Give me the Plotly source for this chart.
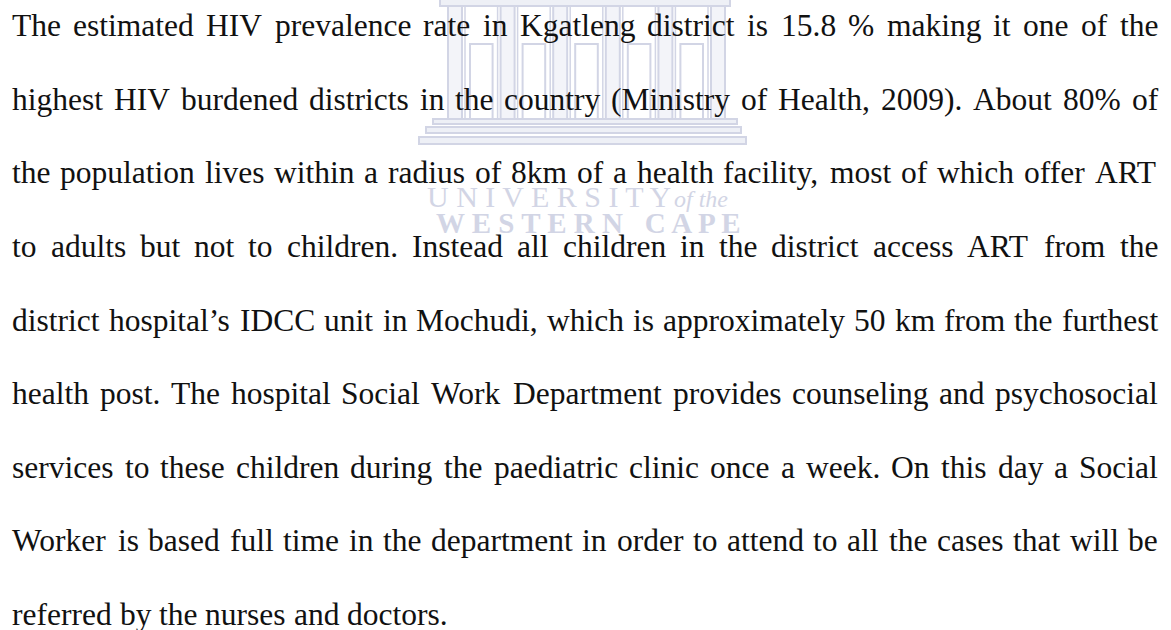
import plotly.graph_objects as go

# ---- content ----
lines = [
    "The estimated HIV prevalence rate in Kgatleng district is 15.8 % making it one of the",
    "highest HIV burdened districts in the country (Ministry of Health, 2009). About 80% of",
    "the population lives within a radius of 8km of a health facility, most of which offer ART",
    "to adults but not to children. Instead all children in the district access ART from the",
    "district hospital\u2019s IDCC unit in Mochudi, which is approximately 50 km from the furthest",
    "health post. The hospital Social Work Department provides counseling and psychosocial",
    "services to these children during the paediatric clinic once a week.  On this day a Social",
    "Worker is based full time in the department in order to attend to all the cases that will be",
    "referred by the nurses and doctors.",
]
justified = [True] * 8 + [False]
watermark_top = "U N I V E R S I T Y"
watermark_of = "of the"
watermark_bottom = "W E S T E R N   C A P E"

# ---- layout parameters ----
W, H = 1171, 630
FS = 31.5
LEFT, RIGHT = 11, 1157
BASE0, STEP = 36, 73.6
TEXT_COLOR = "#111111"
WM_COLOR = "#d2d5e5"

# Times/Liberation Serif advance widths (1/1000 em)
AW = {' ': 250, 'a': 444, 'b': 500, 'c': 444, 'd': 500, 'e': 444, 'f': 333, 'g': 500, 'h': 500,
      'i': 278, 'j': 278, 'k': 500, 'l': 278, 'm': 778, 'n': 500, 'o': 500, 'p': 500, 'q': 500,
      'r': 333, 's': 389, 't': 278, 'u': 500, 'v': 500, 'w': 722, 'x': 500, 'y': 500, 'z': 444,
      'A': 722, 'B': 667, 'C': 667, 'D': 722, 'E': 611, 'F': 556, 'G': 722, 'H': 722, 'I': 333,
      'J': 389, 'K': 722, 'L': 611, 'M': 889, 'N': 722, 'O': 722, 'P': 556, 'Q': 722, 'R': 667,
      'S': 556, 'T': 611, 'U': 722, 'V': 722, 'W': 944, 'X': 722, 'Y': 722, 'Z': 611,
      '.': 250, ',': 250, '%': 833, '(': 333, ')': 333, '\u2019': 333, "'": 180, '-': 333}


def width(s):
    return sum(AW.get(ch, 500) for ch in s) / 1000.0 * FS


fig = go.Figure()
fig.add_trace(go.Scatter(x=[0, W], y=[0, H], mode="markers", marker=dict(opacity=0),
                         hoverinfo="skip", showlegend=False))

# ---- watermark (UWC logo) ----
shapes = []
lc = dict(color=WM_COLOR, width=2)
fill = "#eef0f6"
# steps
shapes.append(dict(type="rect", x0=433, x1=737, y0=119, y1=124, line=lc, fillcolor=fill, layer="below"))
shapes.append(dict(type="rect", x0=426, x1=741, y0=127, y1=133, line=lc, fillcolor=fill, layer="below"))
shapes.append(dict(type="rect", x0=419, x1=746, y0=137, y1=144, line=lc, fillcolor=fill, layer="below"))
# top beam
shapes.append(dict(type="rect", x0=440, x1=730, y0=-4, y1=6, line=lc, fillcolor=fill, layer="below"))
# columns and windows
ncol = 6
cx0, cx1 = 455, 718
cw = 14
step = (cx1 - cx0) / (ncol - 1)
for i in range(ncol):
    c = cx0 + i * step
    shapes.append(dict(type="rect", x0=c - cw / 2, x1=c + cw / 2, y0=6, y1=119, line=lc,
                       fillcolor="#f3f4f9", layer="below"))
    if i < ncol - 1:
        shapes.append(dict(type="rect", x0=c + cw / 2 + 8, x1=c + step - cw / 2 - 8, y0=44, y1=119,
                           line=lc, fillcolor="rgba(0,0,0,0)", layer="below"))
        shapes.append(dict(type="line", x0=c + cw / 2 + 3, x1=c + cw / 2 + 3, y0=6, y1=119,
                           line=dict(color=WM_COLOR, width=1.5), layer="below"))
        shapes.append(dict(type="line", x0=c + step - cw / 2 - 3, x1=c + step - cw / 2 - 3, y0=6, y1=119,
                           line=dict(color=WM_COLOR, width=1.5), layer="below"))

annotations = []
annotations.append(dict(x=425, y=196, xref="x", yref="y", text=watermark_top, showarrow=False,
                        xanchor="left", yanchor="middle",
                        font=dict(family="Liberation Serif", size=30, color=WM_COLOR)))
annotations.append(dict(x=672, y=199, xref="x", yref="y", text="<i>" + watermark_of + "</i>", showarrow=False,
                        xanchor="left", yanchor="middle",
                        font=dict(family="Liberation Serif", size=24, color=WM_COLOR)))
annotations.append(dict(x=588, y=223, xref="x", yref="y", text="<b>" + watermark_bottom + "</b>", showarrow=False,
                        xanchor="center", yanchor="middle",
                        font=dict(family="Liberation Serif", size=29, color=WM_COLOR)))

# ---- body text, word by word for justification ----
for k, (line, just) in enumerate(zip(lines, justified)):
    base = BASE0 + k * STEP
    yc = base - 0.33 * FS
    words = line.split()
    if just and len(words) > 1:
        total = sum(width(w) for w in words)
        gap = (RIGHT - LEFT - total) / (len(words) - 1)
    else:
        gap = width(" ")
    x = LEFT
    for w in words:
        annotations.append(dict(x=x, y=yc, xref="x", yref="y", text=w, showarrow=False,
                                xanchor="left", yanchor="middle", borderpad=0,
                                font=dict(family="Liberation Serif", size=FS, color=TEXT_COLOR)))
        x += width(w) + gap

fig.update_layout(
    width=W, height=H,
    margin=dict(l=0, r=0, t=0, b=0),
    paper_bgcolor="white", plot_bgcolor="white",
    xaxis=dict(range=[0, W], visible=False, fixedrange=True),
    yaxis=dict(range=[H, 0], visible=False, fixedrange=True),
    shapes=shapes, annotations=annotations,
    showlegend=False,
)

fig.write_html("out.html", config={"displayModeBar": False},
               post_script="document.body.style.margin='0';document.body.style.overflow='hidden';")
